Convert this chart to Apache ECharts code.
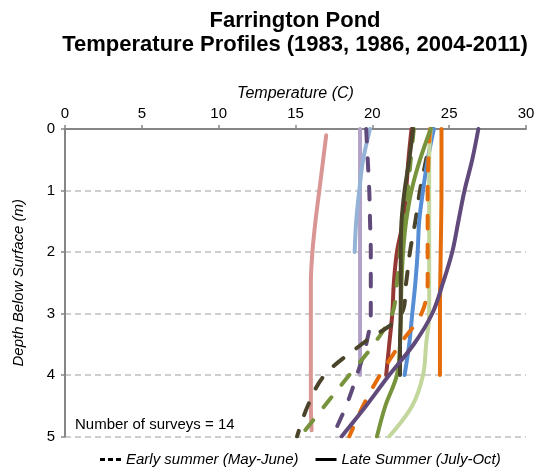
<!DOCTYPE html>
<html><head><meta charset="utf-8">
<script src="https://cdn.jsdelivr.net/npm/echarts@6/dist/echarts.min.js"></script>
<style>html,body{margin:0;padding:0;background:#fff}#c{width:535px;height:469px}</style>
</head><body><div id="c"></div>
<script>
// ---- data ----
const xTicks = [0, 5, 10, 15, 20, 25, 30];
const yTicks = [0, 1, 2, 3, 4, 5];
const titleLines = ['Farrington Pond', 'Temperature Profiles (1983, 1986, 2004-2011)'];
const legendNames = ['Early summer (May-June)', 'Late Summer (July-Oct)'];
const surveyNote = 'Number of surveys = 14';

// depths (m)
const depthHalf5 = [0, 0.5, 1, 1.5, 2, 2.5, 3, 3.5, 4, 4.5, 5];
const depthHalf4 = [0, 0.5, 1, 1.5, 2, 2.5, 3, 3.5, 4];
const depthHalf2 = [0, 0.5, 1, 1.5, 2];
const depthPink = [0.1, 0.5, 1, 1.5, 2, 2.5, 3, 3.5, 4, 4.5, 4.9];
const depthWhole4 = [0, 1, 2, 3, 4];

// temperatures (C)
const tempPink = [17.0, 16.8, 16.55, 16.3, 16.1, 16.0, 16.0, 16.0, 16.0, 16.0, 16.05];
const tempLavender = [19.2, 19.2, 19.2, 19.2, 19.2];
const tempLightBlue = [19.85, 19.4, 19.15, 18.95, 18.85];
const tempPurpleDash = [19.6, 19.7, 19.8, 19.85, 19.9, 19.9, 19.9, 19.6, 19.0, 18.3, 17.4];
const tempRed = [22.55, 22.35, 22.2, 22.0, 21.6, 21.4, 21.3, 21.1, 20.9];
const tempGreenDash = [22.7, 22.5, 22.3, 22.0, 21.8, 21.6, 21.3, 20.1, 18.5, 16.9, 15.3];
const tempOliveDash = [23.9, 23.5, 23.1, 22.8, 22.45, 22.2, 21.9, 19.3, 16.9, 15.8, 15.1];
const tempBlue = [24.0, 23.6, 23.3, 23.05, 22.95, 22.8, 22.6, 22.4, 22.1];
const tempLightGreen = [23.8, 23.7, 23.7, 23.7, 23.7, 23.7, 23.7, 23.5, 23.3, 22.6, 21.1];
const tempOrangeDash = [23.75, 23.65, 23.6, 23.6, 23.6, 23.6, 23.2, 21.8, 20.5, 19.4, 18.5];
const tempGreen = [23.8, 23.1, 22.55, 22.2, 22.0, 21.9, 21.85, 21.8, 21.6, 20.85, 20.3];
const tempOliveSolid = [22.65, 22.4, 22.1, 21.9, 21.85, 21.85, 21.85, 21.8, 21.8];
const tempOrange = [24.5, 24.5, 24.45, 24.4, 24.4];
const tempPurple = [26.9, 26.5, 26.0, 25.6, 25.2, 24.6, 23.9, 22.7, 21.1, 19.6, 18.0];

// ---- styling ----
const FONT = '"Liberation Sans", Arial, sans-serif';
const AXIS_GRAY = '#868686';
const DASH = [12.5, 16.5];

function pairs(t, d) { return t.map(function (v, i) { return [v, d[i]]; }); }

const surveys = [
  { t: tempPink, d: depthPink, color: '#d99694', dashed: false },
  { t: tempLavender, d: depthWhole4, color: '#b3a2c7', dashed: false },
  { t: tempLightBlue, d: depthHalf2, color: '#95b3d7', dashed: false },
  { t: tempPurpleDash, d: depthHalf5, color: '#604a7b', dashed: true },
  { t: tempRed, d: depthHalf4, color: '#953735', dashed: false },
  { t: tempGreenDash, d: depthHalf5, color: '#77933c', dashed: true },
  { t: tempOliveDash, d: depthHalf5, color: '#4a452a', dashed: true },
  { t: tempBlue, d: depthHalf4, color: '#558ed5', dashed: false },
  { t: tempLightGreen, d: depthHalf5, color: '#c3d69b', dashed: false },
  { t: tempOrangeDash, d: depthHalf5, color: '#e46c0a', dashed: true },
  { t: tempGreen, d: depthHalf5, color: '#77933c', dashed: false },
  { t: tempOliveSolid, d: depthHalf4, color: '#4a452a', dashed: false },
  { t: tempOrange, d: depthWhole4, color: '#e46c0a', dashed: false },
  { t: tempPurple, d: depthHalf5, color: '#604a7b', dashed: false }
];

const series = surveys.map(function (s, i) {
  return {
    name: 'Survey ' + (i + 1),
    type: 'line',
    data: pairs(s.t, s.d),
    smooth: 0.35,
    symbol: 'none',
    silent: true,
    lineStyle: { color: s.color, width: 4, type: s.dashed ? DASH : 'solid', cap: 'round', join: 'round' },
    itemStyle: { color: s.color }
  };
});
series.push({
  name: legendNames[0], type: 'line', data: [], symbol: 'none',
  lineStyle: { color: '#000', width: 3, type: [5, 3] }, itemStyle: { color: '#000' }
});
series.push({
  name: legendNames[1], type: 'line', data: [], symbol: 'none',
  lineStyle: { color: '#000', width: 3, type: 'solid' }, itemStyle: { color: '#000' }
});

const chart = echarts.init(document.getElementById('c'), null, { renderer: 'canvas' });
chart.setOption({
  animation: false,
  backgroundColor: '#fff',
  grid: { left: 65, right: 9, top: 129, bottom: 32.5, containLabel: false, outerBoundsMode: 'none' },
  graphic: [
    { type: 'text', x: 295, y: 21, style: { text: titleLines[0], fill: '#000', font: 'bold 22px ' + FONT, textAlign: 'center', textVerticalAlign: 'middle' } },
    { type: 'text', x: 295, y: 45, style: { text: titleLines[1], fill: '#000', font: 'bold 22px ' + FONT, textAlign: 'center', textVerticalAlign: 'middle' } },
    { type: 'text', x: 75, y: 425, style: { text: surveyNote, fill: '#000', font: '15px ' + FONT, textAlign: 'left', textVerticalAlign: 'middle' } }
  ],
  legend: {
    data: [
      { name: legendNames[0], icon: 'path://M0 0h5v3H0z M8 0h5v3H8z M16 0h5v3h-5z' },
      { name: legendNames[1], icon: 'path://M0 0h21v3H0z' }
    ],
    left: 100, top: 452, padding: 0,
    itemWidth: 21, itemHeight: 3, itemGap: 17,
    textStyle: { fontFamily: FONT, fontSize: 15, fontStyle: 'italic', color: '#000' }
  },
  xAxis: {
    type: 'value', position: 'top',
    min: xTicks[0], max: xTicks[xTicks.length - 1], interval: xTicks[1] - xTicks[0],
    name: 'Temperature (C)', nameLocation: 'middle', nameGap: 27,
    nameTextStyle: { fontFamily: FONT, fontSize: 16, fontStyle: 'italic', color: '#000' },
    axisLine: { show: true, onZero: false, lineStyle: { color: AXIS_GRAY, width: 2 } },
    axisTick: { show: true, length: 4, lineStyle: { color: AXIS_GRAY, width: 1.5 } },
    axisLabel: { fontFamily: FONT, fontSize: 15, color: '#000', margin: 8 },
    splitLine: { show: false }
  },
  yAxis: {
    type: 'value', inverse: true,
    min: yTicks[0], max: yTicks[yTicks.length - 1], interval: yTicks[1] - yTicks[0],
    name: 'Depth Below Surface (m)', nameLocation: 'middle', nameGap: 39,
    nameTextStyle: { fontFamily: FONT, fontSize: 15, fontStyle: 'italic', color: '#000' },
    axisLine: { show: true, onZero: false, lineStyle: { color: AXIS_GRAY, width: 2 } },
    axisTick: { show: true, length: 4, lineStyle: { color: AXIS_GRAY, width: 1.5 } },
    axisLabel: { fontFamily: FONT, fontSize: 15, color: '#000', margin: 10 },
    splitLine: { show: true, lineStyle: { color: '#bfbfbf', width: 1.5, type: [6, 4] } }
  },
  series: series
});
</script>
</body></html>
